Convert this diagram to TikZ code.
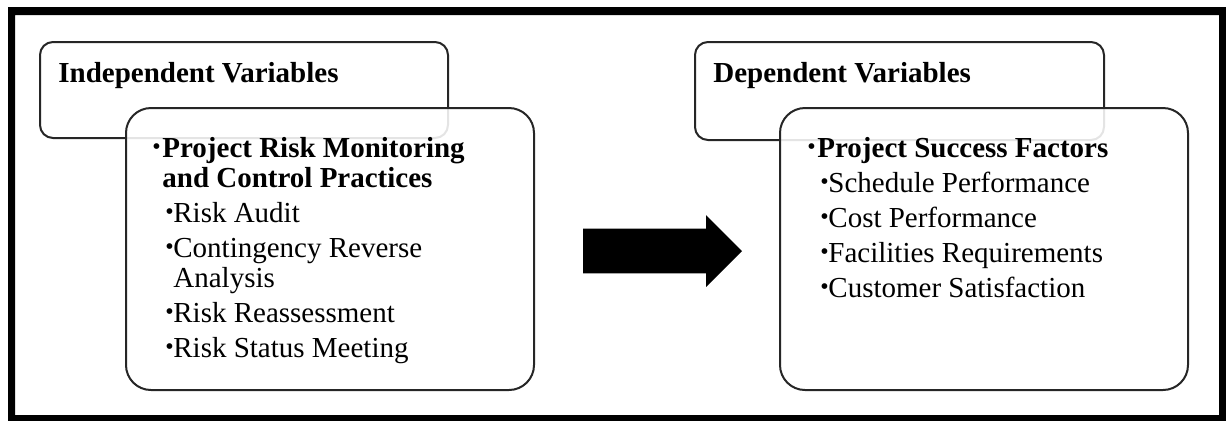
\documentclass[tikz,border=0pt]{standalone}
\usepackage{fontspec}
\setmainfont{Liberation Serif}
\usetikzlibrary{shapes.arrows}

% small bullet as in the original
\newcommand\bulletdot{\raisebox{1.2pt}{\fontsize{12pt}{12pt}\selectfont •}}
\newcommand\topentry[1]{\par\hangindent=5pt\hangafter=1\noindent\makebox[5pt][l]{\bulletdot}\textbf{#1}}
\newcommand\subentry[1]{\par\hangindent=10.5pt\hangafter=1\noindent\hspace*{6.5pt}\makebox[4pt][l]{\bulletdot}#1}

\tikzset{
  headbox/.style={draw=black!85, line width=1pt, rounded corners=6.5pt, fill=white,
    anchor=north west, inner sep=0pt, outer sep=0pt},
  bodybox/.style={draw=black!85, line width=1pt, rounded corners=12.5pt, fill=white,
    fill opacity=0.88, anchor=north west, inner sep=0pt, outer sep=0pt,
    minimum width=204pt, minimum height=141pt},
  headtext/.style={anchor=base west, inner sep=0pt, font=\fontsize{14.5pt}{15pt}\selectfont\bfseries},
  listtext/.style={anchor=base west, inner sep=0pt, font=\fontsize{14.5pt}{15pt}\selectfont},
  bigarrow/.style={single arrow, fill=black, draw=none, inner xsep=0pt, inner ysep=11pt,
    outer sep=0pt, minimum height=79.5pt, single arrow head extend=6.75pt}
}

\begin{document}
\begin{tikzpicture}[x=0.5pt, y=-0.5pt]  % one unit is one pixel of the original
    \useasboundingbox (0,0) rectangle (1226,420);

    % Thick outer frame
    \fill[black, even odd rule] (8,7) rectangle (1226,421) (15,15) rectangle (1219,415);

    % Independent side
    \node[headbox, minimum width=204pt, minimum height=48pt] (ivhead) at (40,42) {};
    \node[bodybox] (ivbody) at (126,108) {};
    \node[headtext] (ivtitle) at (58,82) {Independent Variables};
    \node[listtext] (ivlist) at (152,157) {\parbox[t]{200pt}{\setlength\parskip{2.5pt}%
        \topentry{Project Risk Monitoring\\and Control Practices}
        \subentry{Risk Audit}
        \subentry{Contingency Reverse\\Analysis}
        \subentry{Risk Reassessment}
        \subentry{Risk Status Meeting}}};

    % Dependent side
    \node[headbox, minimum width=204.5pt, minimum height=49pt] (dvhead) at (695,42) {};
    \node[bodybox] (dvbody) at (780,108) {};
    \node[headtext] (dvtitle) at (713,82) {Dependent Variables};
    \node[listtext] (dvlist) at (807,157) {\parbox[t]{200pt}{\setlength\parskip{2.5pt}%
        \topentry{Project Success Factors}
        \subentry{Schedule Performance}
        \subentry{Cost Performance}
        \subentry{Facilities Requirements}
        \subentry{Customer Satisfaction}}};

    % Block arrow between the two sides
    \node[bigarrow, anchor=tail] (arrow) at (583,251) {};
\end{tikzpicture}
\end{document}
